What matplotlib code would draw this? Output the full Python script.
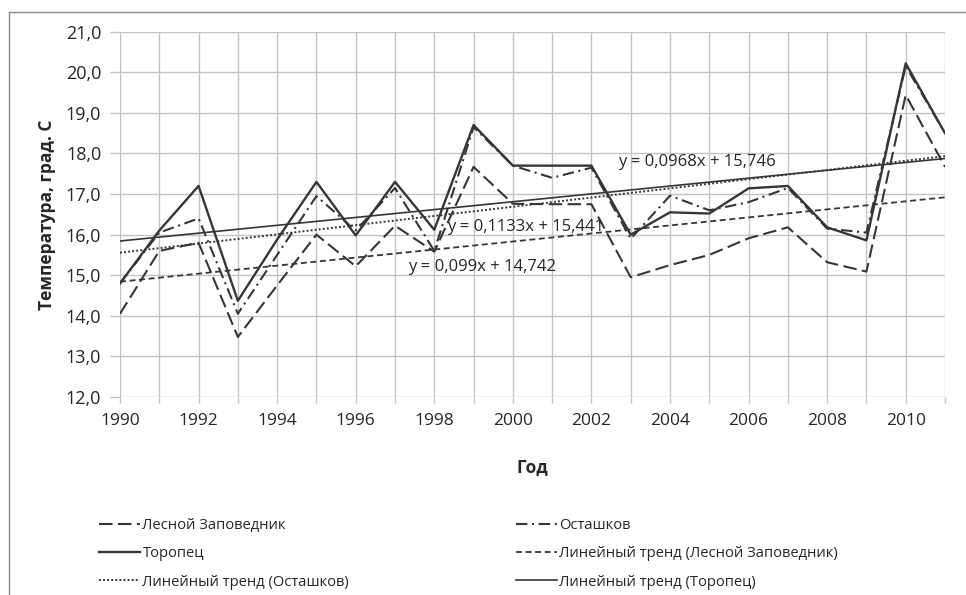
import numpy as np
import matplotlib
matplotlib.use("Agg")
import matplotlib.pyplot as plt
from matplotlib.lines import Line2D

plt.rcParams['font.family'] = ['Open Sans', 'DejaVu Sans']

years = list(range(1990, 2012))
tick_years = list(range(1990, 2012, 2))
y_ticks = [12, 13, 14, 15, 16, 17, 18, 19, 20, 21]

les = [14.05, 15.6, 15.8, 13.48, 14.75, 16.0, 15.22, 16.22, 15.58, 17.67, 16.76,
       16.75, 16.75, 14.95, 15.25, 15.5, 15.91, 16.18, 15.32, 15.09, 19.44, 17.67]
ost = [14.8, 16.05, 16.4, 14.05, 15.5, 16.95, 16.1, 17.15, 15.6, 18.65, 17.7,
       17.4, 17.65, 15.9, 16.96, 16.6, 16.8, 17.15, 16.15, 16.05, 20.15, 18.5]
tor = [14.8, 16.1, 17.2, 14.37, 15.88, 17.3, 15.98, 17.3, 16.12, 18.7, 17.7,
       17.7, 17.7, 16.0, 16.55, 16.52, 17.14, 17.2, 16.18, 15.86, 20.22, 18.5]

# trend equations as shown on the chart (x = 1..22)
trend_slopes = [0.099, 0.1133, 0.0968]
trend_intercepts = [14.742, 15.441, 15.746]
trend_labels = ["y = 0,099x + 14,742", "y = 0,1133x + 15,441", "y = 0,0968x + 15,746"]

series_names = ["Лесной Заповедник", "Осташков", "Торопец"]
trend_names = ["Линейный тренд (Лесной Заповедник)", "Линейный тренд (Осташков)",
               "Линейный тренд (Торопец)"]

W, H = 966, 595
fig = plt.figure(figsize=(W / 100, H / 100), dpi=100)
ax = fig.add_axes([120 / W, 1 - 397 / H, (945 - 120) / W, (397 - 31.7) / H])

col = '#363636'
grid_c = '#c3c3c3'
txt_c = '#262626'

l1, = ax.plot(years, les, color=col, lw=1.5, dashes=(6.5, 2.6), label=series_names[0])
l2, = ax.plot(years, ost, color=col, lw=1.5, dashes=(5.5, 2.2, 1.0, 2.2), label=series_names[1])
l3, = ax.plot(years, tor, color=col, lw=1.7, label=series_names[2])

xi = np.arange(1, len(years) + 1)
t_styles = [dict(dashes=(3.3, 2.0), lw=1.3), dict(dashes=(1.0, 1.1), lw=1.4), dict(lw=1.2)]
t_lines = []
for s, b, st, nm in zip(trend_slopes, trend_intercepts, t_styles, trend_names):
    ln, = ax.plot(years, s * xi + b, color=col, label=nm, **st)
    t_lines.append(ln)

ax.set_xlim(1990, 2011)
ax.set_ylim(12, 21)
ax.set_yticks(y_ticks)
ax.set_yticklabels([f"{v:.1f}".replace('.', ',') for v in y_ticks])
ax.set_xticks(years)
ax.set_xticklabels([str(y) if y in tick_years else '' for y in years])
ax.grid(True, color=grid_c, lw=1.0)
ax.set_axisbelow(True)
for sp in ax.spines.values():
    sp.set_visible(False)
ax.tick_params(axis='y', length=7, color=grid_c, width=1.0, labelsize=13, pad=6.5, labelcolor=txt_c)
ax.tick_params(axis='x', length=4.5, color=grid_c, width=1.0, labelsize=12.5, pad=7, labelcolor=txt_c)

ax.set_ylabel("Температура, град. С", fontsize=12.5, fontweight='bold', labelpad=7, color=txt_c)
ax.set_xlabel("Год", fontsize=12.5, fontweight='bold', labelpad=21, color=txt_c)

# trend equations
def px(x, y):
    return (x / W, 1 - y / H)

eq_pos = [(408, 267), (447, 227), (618, 162)]
for lab, (x, y) in zip(trend_labels, eq_pos):
    fig.text(*px(x, y), lab, fontsize=12, va='center', ha='left', color=txt_c)

# legends (two columns, laid out row-wise like the original)
leg_kw = dict(frameon=False, fontsize=10.6, handlelength=2.8, handletextpad=0.15,
              labelspacing=0.9, borderaxespad=0, borderpad=0, labelcolor=txt_c)
leg1 = fig.legend([l1, l3, t_lines[1]], [series_names[0], series_names[2], trend_names[1]],
                  loc='upper left', bbox_to_anchor=px(99, 518), **leg_kw)
leg2 = fig.legend([l2, t_lines[0], t_lines[2]], [series_names[1], trend_names[0], trend_names[2]],
                  loc='upper left', bbox_to_anchor=px(516, 518), **leg_kw)

# chart outer border (clipped at right/bottom in original)
fig.add_artist(Line2D([9 / W, 9 / W], [0, 1 - 12 / H], color='#8a8a8a', lw=1.0))
fig.add_artist(Line2D([9 / W, 1], [1 - 12 / H, 1 - 12 / H], color='#8a8a8a', lw=1.0))

fig.savefig("out.png", dpi=100)
